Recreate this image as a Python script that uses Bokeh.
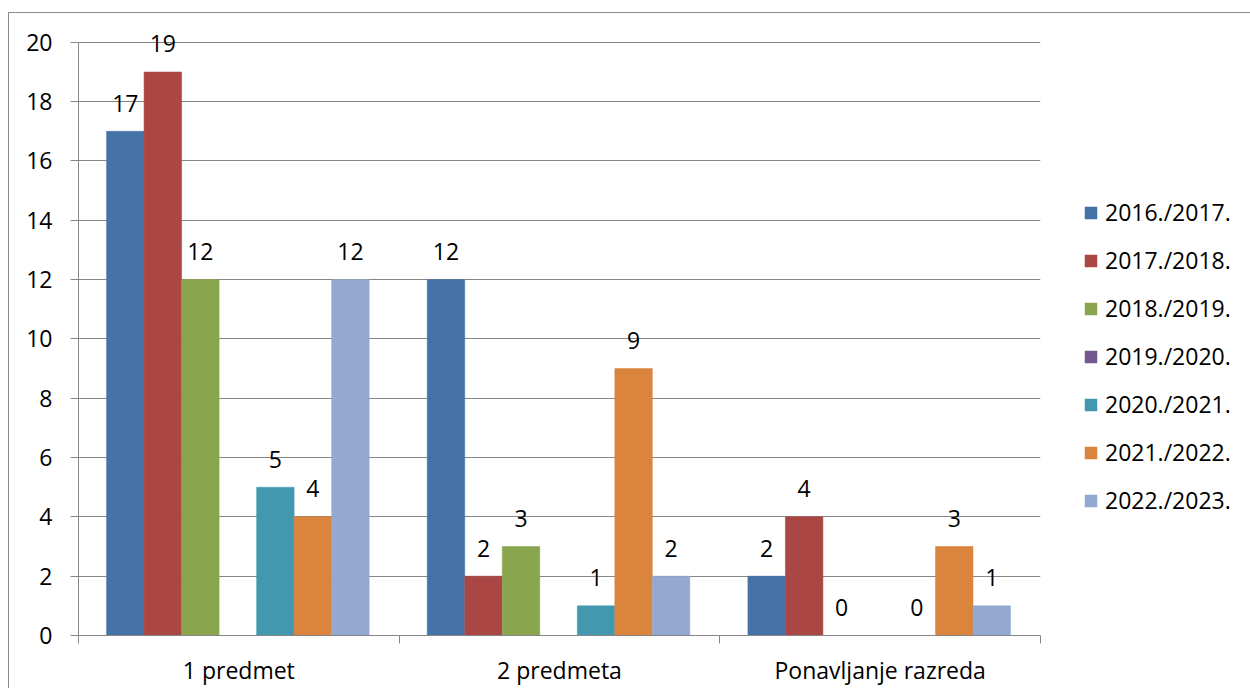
from bokeh.plotting import figure
from bokeh.models import Range1d, FixedTicker, Legend, LegendItem, ColumnDataSource
from bokeh.core.properties import value
from bokeh.embed import file_html
from bokeh.resources import INLINE

categories = ["1 predmet", "2 predmeta", "Ponavljanje razreda"]
series_names = ["2016./2017.", "2017./2018.", "2018./2019.", "2019./2020.",
                "2020./2021.", "2021./2022.", "2022./2023."]
s2016_2017 = [17, 12, 2]
s2017_2018 = [19, 2, 4]
s2018_2019 = [12, 3, 0]
s2019_2020 = [None, None, None]
s2020_2021 = [5, 1, 0]
s2021_2022 = [4, 9, 3]
s2022_2023 = [12, 2, 1]
series_values = [s2016_2017, s2017_2018, s2018_2019, s2019_2020,
                 s2020_2021, s2021_2022, s2022_2023]
colors = ["#4572A7", "#AA4643", "#89A54E", "#71588F", "#4198AF", "#DB843D", "#93A9CF"]
y_ticks = list(range(0, 21, 2))

FONT = "Open Sans"
FS = "23px"
GRAY = "#868686"

p = figure(frame_width=962, frame_height=608, output_backend="svg", toolbar_location=None,
           x_range=Range1d(0, len(categories)), y_range=Range1d(0, 20.5),
           min_border_left=69, min_border_right=60, min_border_top=14,
           min_border_bottom=10)
p.styles = {"border-top": "1px solid #8c8c8c", "border-left": "1px solid #8c8c8c",
            "margin-top": "12px", "margin-left": "8px"}
p.outline_line_color = None
p.background_fill_color = "white"
p.border_fill_color = "white"

n = len(series_names)
bar_w = 0.117
items = []
for i, (name, vals, col) in enumerate(zip(series_names, series_values, colors)):
    off = (i - (n - 1) / 2) * bar_w - 0.003
    xs = [c + 0.5 + off for c in range(len(categories))]
    tops = [float("nan") if v is None else v for v in vals]
    src = ColumnDataSource(dict(x=xs, top=tops))
    r = p.vbar(x="x", top="top", bottom=0, width=bar_w, source=src,
               fill_color=col, line_color=col, line_width=0.5)
    items.append(LegendItem(label=name, renderers=[r]))
    lx = [x for x, v in zip(xs, vals) if v is not None]
    ly = [v for v in vals if v is not None]
    lt = [str(v) for v in vals if v is not None]
    if lx:
        lsrc = ColumnDataSource(dict(x=lx, y=ly, t=lt))
        p.text(x="x", y="y", text="t", source=lsrc, y_offset=-28,
               text_align="center", text_baseline="middle",
               text_font=value(FONT), text_font_size=FS, text_color="black")

legend = Legend(items=items, location=(43, 119), orientation="vertical",
                glyph_width=15, glyph_height=15, label_height=24, spacing=16,
                label_standoff=7, padding=0, margin=0,
                border_line_color=None, background_fill_alpha=0,
                label_text_font=FONT, label_text_font_size=FS,
                label_text_color="black")
p.add_layout(legend, "right")

# axes
p.xgrid.grid_line_color = None
p.ygrid.grid_line_color = GRAY
p.ygrid.grid_line_width = 1
p.yaxis.ticker = FixedTicker(ticks=y_ticks)
p.yaxis.bounds = (0, 20)
p.yaxis.axis_line_color = GRAY
p.yaxis.major_tick_line_color = GRAY
p.yaxis.major_tick_in = 0
p.yaxis.major_tick_out = 8
p.yaxis.minor_tick_line_color = None
p.yaxis.major_label_standoff = 18
p.yaxis.major_label_text_font = FONT
p.yaxis.major_label_text_font_size = FS
p.yaxis.major_label_text_color = "black"

p.xaxis.ticker = FixedTicker(ticks=[c + 0.5 for c in range(len(categories))],
                             minor_ticks=list(range(len(categories) + 1)))
p.xaxis.major_label_overrides = {c + 0.5: name for c, name in enumerate(categories)}
p.xaxis.axis_line_color = GRAY
p.xaxis.major_tick_line_color = None
p.xaxis.major_tick_in = 0
p.xaxis.major_tick_out = 0
p.xaxis.minor_tick_line_color = GRAY
p.xaxis.minor_tick_in = 0
p.xaxis.minor_tick_out = 8
p.xaxis.major_label_standoff = 10
p.xaxis.major_label_text_font = FONT
p.xaxis.major_label_text_font_size = FS
p.xaxis.major_label_text_color = "black"

open("out.html", "w").write(file_html(p, INLINE))
